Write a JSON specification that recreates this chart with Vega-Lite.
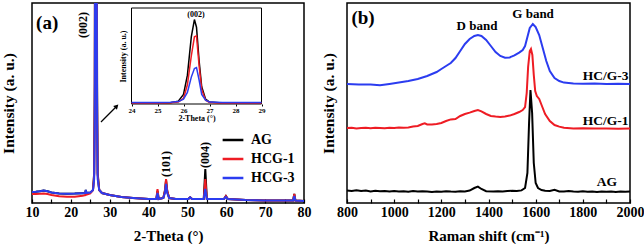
{
  "$schema": "https://vega.github.io/schema/vega-lite/v6.json",
  "padding": {"left": 0, "top": 2, "right": 0, "bottom": 0},
  "background": "white",
  "bounds": "flush",
  "spacing": 43,
  "config": {
    "font": "Liberation Serif",
    "view": {"stroke": "black", "strokeWidth": 1.5},
    "axis": {
      "labelFont": "Liberation Serif", "titleFont": "Liberation Serif",
      "labelFontWeight": "bold", "titleFontWeight": "bold",
      "labelColor": "black", "titleColor": "black", "tickColor": "black", "domainColor": "black",
      "grid": false, "labelOverlap": false
    },
    "text": {"font": "Liberation Serif", "fontWeight": "bold", "color": "black"}
  },
  "datasets": {
    "xrd": [
      {"t":10,"AG":5.5,"HCG-1":4.5,"HCG-3":5.5},
      {"t":11,"AG":5.6,"HCG-1":4.5,"HCG-3":5.6},
      {"t":12,"AG":5.9,"HCG-1":4.6,"HCG-3":5.9},
      {"t":13,"AG":6.3,"HCG-1":4.8,"HCG-3":6.3},
      {"t":14,"AG":5.9,"HCG-1":4.5,"HCG-3":5.9},
      {"t":15,"AG":5.3,"HCG-1":4.0,"HCG-3":5.3},
      {"t":17,"AG":4.8,"HCG-1":3.4,"HCG-3":4.8},
      {"t":19,"AG":4.6,"HCG-1":3.1,"HCG-3":4.6},
      {"t":21,"AG":4.7,"HCG-1":3.1,"HCG-3":4.7},
      {"t":23,"AG":4.9,"HCG-1":3.6,"HCG-3":4.9},
      {"t":23.7,"AG":5.0,"HCG-1":3.9,"HCG-3":5.0},
      {"t":23.85,"AG":6.5,"HCG-1":6.0,"HCG-3":6.5},
      {"t":24.0,"AG":5.0,"HCG-1":4.2,"HCG-3":5.0},
      {"t":25,"AG":5.2,"HCG-1":4.8,"HCG-3":5.2},
      {"t":25.7,"AG":6.5,"HCG-1":6.5,"HCG-3":6.5},
      {"t":26.0,"AG":15,"HCG-1":14,"HCG-3":12},
      {"t":26.15,"AG":60,"HCG-1":50,"HCG-3":40},
      {"t":26.3,"AG":250,"HCG-1":220,"HCG-3":150},
      {"t":26.45,"AG":300,"HCG-1":260,"HCG-3":180},
      {"t":26.6,"AG":250,"HCG-1":220,"HCG-3":150},
      {"t":26.75,"AG":60,"HCG-1":50,"HCG-3":40},
      {"t":26.9,"AG":15,"HCG-1":14,"HCG-3":12},
      {"t":27.3,"AG":6.5,"HCG-1":6.5,"HCG-3":6.5},
      {"t":28,"AG":5,"HCG-1":5,"HCG-3":5},
      {"t":30,"AG":4,"HCG-1":4,"HCG-3":4},
      {"t":33,"AG":3,"HCG-1":3,"HCG-3":3},
      {"t":36,"AG":2.5,"HCG-1":2.5,"HCG-3":2.5},
      {"t":40,"AG":2,"HCG-1":2,"HCG-3":2},
      {"t":42.0,"AG":2,"HCG-1":2,"HCG-3":2},
      {"t":42.3,"AG":6,"HCG-1":7,"HCG-3":5},
      {"t":42.6,"AG":2,"HCG-1":2,"HCG-3":2},
      {"t":43.8,"AG":2.5,"HCG-1":2.5,"HCG-3":2.5},
      {"t":44.2,"AG":6,"HCG-1":6,"HCG-3":5},
      {"t":44.5,"AG":11.5,"HCG-1":12,"HCG-3":9.5},
      {"t":44.8,"AG":6,"HCG-1":6,"HCG-3":5},
      {"t":45.3,"AG":2.5,"HCG-1":2.5,"HCG-3":2.5},
      {"t":47,"AG":2,"HCG-1":2,"HCG-3":2},
      {"t":50.2,"AG":2,"HCG-1":2,"HCG-3":2},
      {"t":50.7,"AG":2.8,"HCG-1":2.8,"HCG-3":2.8},
      {"t":51.2,"AG":2,"HCG-1":2,"HCG-3":2},
      {"t":54.2,"AG":2,"HCG-1":2,"HCG-3":2},
      {"t":54.6,"AG":17,"HCG-1":12,"HCG-3":7},
      {"t":55.0,"AG":2,"HCG-1":2,"HCG-3":2},
      {"t":59.4,"AG":2,"HCG-1":2,"HCG-3":2},
      {"t":59.9,"AG":3.5,"HCG-1":3.5,"HCG-3":3},
      {"t":60.4,"AG":2,"HCG-1":2,"HCG-3":2},
      {"t":65,"AG":1.5,"HCG-1":1.5,"HCG-3":1.5},
      {"t":70,"AG":1.2,"HCG-1":1.2,"HCG-3":1.2},
      {"t":77.2,"AG":1.2,"HCG-1":1.2,"HCG-3":1.2},
      {"t":77.5,"AG":4.5,"HCG-1":4.5,"HCG-3":3.5},
      {"t":77.8,"AG":1.2,"HCG-1":1.2,"HCG-3":1.2},
      {"t":80,"AG":1,"HCG-1":1,"HCG-3":1}
    ],
    "inset": [
      {"t":24,"AG":1,"HCG-1":1,"HCG-3":1.5},
      {"t":25,"AG":1,"HCG-1":1,"HCG-3":1.5},
      {"t":25.5,"AG":1.3,"HCG-1":1.2,"HCG-3":1.8},
      {"t":25.8,"AG":3,"HCG-1":2,"HCG-3":2.5},
      {"t":26.0,"AG":10,"HCG-1":6,"HCG-3":5},
      {"t":26.15,"AG":30,"HCG-1":20,"HCG-3":12},
      {"t":26.3,"AG":70,"HCG-1":50,"HCG-3":28},
      {"t":26.42,"AG":88,"HCG-1":70,"HCG-3":37},
      {"t":26.5,"AG":80,"HCG-1":71,"HCG-3":38},
      {"t":26.6,"AG":45,"HCG-1":40,"HCG-3":25},
      {"t":26.7,"AG":18,"HCG-1":15,"HCG-3":10},
      {"t":26.85,"AG":5,"HCG-1":4,"HCG-3":4},
      {"t":27.0,"AG":2,"HCG-1":1.5,"HCG-3":2},
      {"t":27.5,"AG":1,"HCG-1":1,"HCG-3":1.5},
      {"t":28,"AG":1,"HCG-1":1,"HCG-3":1.5},
      {"t":29,"AG":1,"HCG-1":1,"HCG-3":1.5}
    ],
    "raman": [
      {"s":"AG","w":800,"i":6.3},{"s":"AG","w":820,"i":6.0},{"s":"AG","w":840,"i":6.4},{"s":"AG","w":860,"i":6.0},
      {"s":"AG","w":880,"i":6.2},{"s":"AG","w":900,"i":5.8},{"s":"AG","w":920,"i":6.1},{"s":"AG","w":940,"i":5.9},
      {"s":"AG","w":960,"i":6.0},{"s":"AG","w":980,"i":5.7},{"s":"AG","w":1000,"i":6.0},{"s":"AG","w":1020,"i":5.8},
      {"s":"AG","w":1040,"i":5.9},{"s":"AG","w":1060,"i":5.6},{"s":"AG","w":1080,"i":6.0},{"s":"AG","w":1100,"i":5.7},
      {"s":"AG","w":1120,"i":5.9},{"s":"AG","w":1140,"i":5.8},{"s":"AG","w":1160,"i":5.5},{"s":"AG","w":1180,"i":5.8},
      {"s":"AG","w":1200,"i":5.6},{"s":"AG","w":1220,"i":5.9},{"s":"AG","w":1240,"i":5.7},{"s":"AG","w":1260,"i":5.6},
      {"s":"AG","w":1280,"i":5.9},{"s":"AG","w":1300,"i":5.8},{"s":"AG","w":1320,"i":6.2},{"s":"AG","w":1340,"i":7.5},
      {"s":"AG","w":1355,"i":8.2},{"s":"AG","w":1370,"i":7.0},{"s":"AG","w":1390,"i":5.9},{"s":"AG","w":1420,"i":5.8},
      {"s":"AG","w":1440,"i":5.9},{"s":"AG","w":1460,"i":5.7},{"s":"AG","w":1480,"i":6.0},{"s":"AG","w":1500,"i":6.1},
      {"s":"AG","w":1520,"i":6.0},{"s":"AG","w":1540,"i":6.3},{"s":"AG","w":1555,"i":7.5},{"s":"AG","w":1565,"i":15},
      {"s":"AG","w":1572,"i":40},{"s":"AG","w":1578,"i":56.5},{"s":"AG","w":1585,"i":45},{"s":"AG","w":1592,"i":20},
      {"s":"AG","w":1600,"i":10},{"s":"AG","w":1610,"i":7.5},{"s":"AG","w":1625,"i":6.5},{"s":"AG","w":1640,"i":6.1},
      {"s":"AG","w":1660,"i":6.0},{"s":"AG","w":1680,"i":6.6},{"s":"AG","w":1700,"i":5.8},{"s":"AG","w":1720,"i":5.7},
      {"s":"AG","w":1740,"i":6.0},{"s":"AG","w":1760,"i":5.7},{"s":"AG","w":1780,"i":5.6},{"s":"AG","w":1800,"i":5.9},
      {"s":"AG","w":1820,"i":5.6},{"s":"AG","w":1840,"i":5.8},{"s":"AG","w":1860,"i":5.5},{"s":"AG","w":1880,"i":5.7},
      {"s":"AG","w":1900,"i":5.6},{"s":"AG","w":1920,"i":5.8},{"s":"AG","w":1940,"i":5.5},{"s":"AG","w":1960,"i":5.7},
      {"s":"AG","w":1980,"i":5.6},{"s":"AG","w":2000,"i":5.7},
      {"s":"HC/G-1","w":800,"i":37.5},{"s":"HC/G-1","w":820,"i":37.6},{"s":"HC/G-1","w":840,"i":37.3},{"s":"HC/G-1","w":860,"i":37.5},
      {"s":"HC/G-1","w":880,"i":37.6},{"s":"HC/G-1","w":900,"i":37.4},{"s":"HC/G-1","w":920,"i":37.6},{"s":"HC/G-1","w":940,"i":37.5},
      {"s":"HC/G-1","w":960,"i":37.4},{"s":"HC/G-1","w":980,"i":37.6},{"s":"HC/G-1","w":1000,"i":37.5},{"s":"HC/G-1","w":1020,"i":37.7},
      {"s":"HC/G-1","w":1040,"i":37.6},{"s":"HC/G-1","w":1060,"i":37.8},{"s":"HC/G-1","w":1080,"i":38.2},{"s":"HC/G-1","w":1100,"i":38.5},
      {"s":"HC/G-1","w":1120,"i":39.5},{"s":"HC/G-1","w":1130,"i":39.8},{"s":"HC/G-1","w":1140,"i":39.3},{"s":"HC/G-1","w":1160,"i":39.2},
      {"s":"HC/G-1","w":1180,"i":39.5},{"s":"HC/G-1","w":1200,"i":40},{"s":"HC/G-1","w":1220,"i":41},{"s":"HC/G-1","w":1240,"i":41.8},
      {"s":"HC/G-1","w":1260,"i":42},{"s":"HC/G-1","w":1280,"i":43.5},{"s":"HC/G-1","w":1300,"i":44.5},{"s":"HC/G-1","w":1320,"i":45.2},
      {"s":"HC/G-1","w":1340,"i":46},{"s":"HC/G-1","w":1355,"i":46.5},{"s":"HC/G-1","w":1370,"i":45.8},{"s":"HC/G-1","w":1390,"i":44.5},
      {"s":"HC/G-1","w":1410,"i":43.5},{"s":"HC/G-1","w":1430,"i":43.2},{"s":"HC/G-1","w":1450,"i":43},{"s":"HC/G-1","w":1470,"i":43.2},
      {"s":"HC/G-1","w":1490,"i":43.7},{"s":"HC/G-1","w":1510,"i":44.5},{"s":"HC/G-1","w":1530,"i":45.5},{"s":"HC/G-1","w":1545,"i":46.5},
      {"s":"HC/G-1","w":1555,"i":48},{"s":"HC/G-1","w":1562,"i":55},{"s":"HC/G-1","w":1568,"i":68},{"s":"HC/G-1","w":1575,"i":76},
      {"s":"HC/G-1","w":1580,"i":77},{"s":"HC/G-1","w":1586,"i":74},{"s":"HC/G-1","w":1592,"i":64},{"s":"HC/G-1","w":1598,"i":56},
      {"s":"HC/G-1","w":1605,"i":53.5},{"s":"HC/G-1","w":1615,"i":52},{"s":"HC/G-1","w":1625,"i":49},{"s":"HC/G-1","w":1640,"i":44.5},
      {"s":"HC/G-1","w":1660,"i":41},{"s":"HC/G-1","w":1680,"i":39},{"s":"HC/G-1","w":1700,"i":38.2},{"s":"HC/G-1","w":1720,"i":37.6},
      {"s":"HC/G-1","w":1760,"i":37.3},{"s":"HC/G-1","w":1800,"i":37.4},{"s":"HC/G-1","w":1850,"i":37.2},{"s":"HC/G-1","w":1900,"i":37.3},
      {"s":"HC/G-1","w":1950,"i":37.1},{"s":"HC/G-1","w":2000,"i":37.2},
      {"s":"HC/G-3","w":800,"i":59.5},{"s":"HC/G-3","w":850,"i":59.3},{"s":"HC/G-3","w":900,"i":59.2},{"s":"HC/G-3","w":940,"i":58.9},
      {"s":"HC/G-3","w":980,"i":59.5},{"s":"HC/G-3","w":1020,"i":60.2},{"s":"HC/G-3","w":1060,"i":61},{"s":"HC/G-3","w":1100,"i":62},
      {"s":"HC/G-3","w":1140,"i":63.5},{"s":"HC/G-3","w":1180,"i":65.5},{"s":"HC/G-3","w":1200,"i":67},{"s":"HC/G-3","w":1220,"i":68.5},
      {"s":"HC/G-3","w":1240,"i":70},{"s":"HC/G-3","w":1260,"i":72.5},{"s":"HC/G-3","w":1280,"i":76},{"s":"HC/G-3","w":1300,"i":79.5},
      {"s":"HC/G-3","w":1320,"i":82},{"s":"HC/G-3","w":1340,"i":83.5},{"s":"HC/G-3","w":1355,"i":84},{"s":"HC/G-3","w":1370,"i":83.5},
      {"s":"HC/G-3","w":1390,"i":81.5},{"s":"HC/G-3","w":1410,"i":78.5},{"s":"HC/G-3","w":1430,"i":75.5},{"s":"HC/G-3","w":1450,"i":73.5},
      {"s":"HC/G-3","w":1470,"i":72.6},{"s":"HC/G-3","w":1490,"i":72.8},{"s":"HC/G-3","w":1510,"i":73.8},{"s":"HC/G-3","w":1530,"i":75.2},
      {"s":"HC/G-3","w":1545,"i":76.5},{"s":"HC/G-3","w":1555,"i":78.5},{"s":"HC/G-3","w":1565,"i":83},{"s":"HC/G-3","w":1575,"i":87.5},
      {"s":"HC/G-3","w":1588,"i":89.5},{"s":"HC/G-3","w":1600,"i":88},{"s":"HC/G-3","w":1615,"i":84},{"s":"HC/G-3","w":1630,"i":77.5},
      {"s":"HC/G-3","w":1645,"i":71},{"s":"HC/G-3","w":1660,"i":66},{"s":"HC/G-3","w":1680,"i":62.5},{"s":"HC/G-3","w":1700,"i":61},
      {"s":"HC/G-3","w":1720,"i":60.2},{"s":"HC/G-3","w":1760,"i":59.7},{"s":"HC/G-3","w":1800,"i":59.6},{"s":"HC/G-3","w":1850,"i":59.8},
      {"s":"HC/G-3","w":1900,"i":59.5},{"s":"HC/G-3","w":1950,"i":59.6},{"s":"HC/G-3","w":2000,"i":59.5}
    ]
  },
  "resolve": {"scale": {"color": "independent"}},
  "hconcat": [
    {
      "width": 272,
      "height": 200,
      "resolve": {"scale": {"x": "independent", "y": "independent"}, "axis": {"x": "independent", "y": "independent"}},
      "layer": [
        {
          "encoding": {
            "x": {"type": "quantitative", "scale": {"domain": [10, 80], "nice": false},
              "axis": {"orient": "bottom", "title": "2-Theta (°)", "values": [10,15,20,25,30,35,40,45,50,55,60,65,70,75,80],
                "labelExpr": "(datum.value % 10 === 0) ? format(datum.value, 'd') : ''", "labelOverlap": false, "labelBound": false,
                "domain": false, "tickSize": -4, "tickWidth": 1.2,
                "labelFontSize": 14, "labelPadding": 6, "titleFontSize": 15, "titlePadding": 9, "labelFlush": false}},
            "y": {"type": "quantitative", "scale": {"domain": [0, 100], "nice": false},
              "axis": {"orient": "left", "title": "Intensity (a. u.)", "labels": false, "ticks": false, "domain": false,
                "titleFontSize": 15.5, "titlePadding": 16}}
          },
          "layer": [
            {
              "data": {"name": "xrd"},
              "transform": [{"fold": ["AG", "HCG-1", "HCG-3"], "as": ["sample", "I"]}],
              "mark": {"type": "line", "strokeWidth": 2, "clip": true},
              "encoding": {
                "x": {"field": "t"},
                "y": {"field": "I"},
                "color": {"field": "sample", "type": "nominal",
                  "scale": {"domain": ["AG", "HCG-1", "HCG-3"], "range": ["#000000", "#ee1c24", "#2b3cf0"]},
                  "legend": {"orient": "none", "legendX": 189, "legendY": 125, "title": null, "symbolType": "stroke",
                    "symbolSize": 430, "symbolStrokeWidth": 2.5, "labelFontSize": 14, "labelFont": "Liberation Serif",
                    "labelFontWeight": "bold", "labelColor": "black", "rowPadding": -8, "labelOffset": 6}},
                "order": {"field": "sample"}
              }
            },
            {
              "data": {"values": [{"ax": 27.75, "ay": 40.5}, {"ax": 31.6, "ay": 48}]},
              "mark": {"type": "line", "color": "black", "strokeWidth": 1.2},
              "encoding": {"x": {"field": "ax"}, "y": {"field": "ay"}}
            },
            {
              "data": {"values": [{"ax": 31.8, "ay": 48.4}]},
              "mark": {"type": "point", "shape": "triangle-up", "filled": true, "color": "black", "size": 28, "angle": 45, "opacity": 1},
              "encoding": {"x": {"field": "ax"}, "y": {"field": "ay"}}
            },
            {
              "data": {"values": [{"lab": "(a)", "ax": 13.9, "ay": 90}]},
              "mark": {"type": "text", "fontSize": 19, "align": "center", "baseline": "middle"},
              "encoding": {"x": {"field": "ax"}, "y": {"field": "ay"}, "text": {"field": "lab"}}
            },
            {
              "data": {"values": [{"lab": "(002)", "ax": 23.1, "ay": 89}, {"lab": "(101)", "ax": 44.4, "ay": 19.5}, {"lab": "(004)", "ax": 54.4, "ay": 24}]},
              "mark": {"type": "text", "fontSize": 12, "angle": -90, "align": "center", "baseline": "middle"},
              "encoding": {"x": {"field": "ax"}, "y": {"field": "ay"}, "text": {"field": "lab"}}
            }
          ]
        },
        {
          "encoding": {
            "x": {"type": "quantitative", "scale": {"domain": [24, 29], "range": [99.5, 229.5], "nice": false},
              "axis": {"orient": "bottom", "offset": -99, "title": "2-Theta (°)", "values": [24,25,26,27,28,29], "domain": false,
                "tickSize": 2, "labelFontSize": 7, "labelPadding": 0, "titleFontSize": 8, "titlePadding": 1, "labelFlush": false}},
            "y": {"type": "quantitative", "scale": {"domain": [0, 100], "range": [101, 5], "nice": false},
              "axis": {"orient": "left", "offset": -99.5, "title": "Intensity (a. u.)", "labels": false, "ticks": false,
                "domain": false, "titleFontSize": 8, "titlePadding": 4}}
          },
          "layer": [
            {
              "data": {"values": [{"x0": 24, "x1": 29, "y0": 0, "y1": 100}]},
              "mark": {"type": "rect", "fill": "white", "stroke": "black", "strokeWidth": 1},
              "encoding": {"x": {"field": "x0"}, "x2": {"field": "x1"}, "y": {"field": "y0"}, "y2": {"field": "y1"}}
            },
            {
              "data": {"name": "inset"},
              "transform": [{"fold": ["AG", "HCG-1", "HCG-3"], "as": ["sample", "I"]}],
              "mark": {"type": "line", "strokeWidth": 1.5},
              "encoding": {
                "x": {"field": "t"},
                "y": {"field": "I"},
                "color": {"field": "sample", "type": "nominal", "legend": null},
                "order": {"field": "sample"}
              }
            },
            {
              "data": {"values": [{"lab": "(002)", "ax": 26.48, "ay": 93}]},
              "mark": {"type": "text", "fontSize": 8, "align": "center", "baseline": "middle"},
              "encoding": {"x": {"field": "ax"}, "y": {"field": "ay"}, "text": {"field": "lab"}}
            }
          ]
        }
      ]
    },
    {
      "width": 283,
      "height": 200,
      "encoding": {
        "x": {"type": "quantitative", "scale": {"domain": [800, 2000], "nice": false},
          "axis": {"title": "Raman shift (cm⁻¹)", "values": [800,900,1000,1100,1200,1300,1400,1500,1600,1700,1800,1900,2000],
            "labelExpr": "(datum.value % 200 === 0) ? format(datum.value, 'd') : ''", "labelOverlap": false, "domain": false, "tickSize": -4, "tickWidth": 1.2,
            "labelFontSize": 14, "labelPadding": 6, "titleFontSize": 15, "titlePadding": 9, "labelFlush": false}},
        "y": {"type": "quantitative", "scale": {"domain": [0, 100], "nice": false},
          "axis": {"title": "Intensity (a. u.)", "labels": false, "ticks": false, "domain": false, "titleFontSize": 15.5, "titlePadding": 11}}
      },
      "layer": [
        {
          "data": {"name": "raman"},
          "mark": {"type": "line", "strokeWidth": 2},
          "encoding": {
            "x": {"field": "w"},
            "y": {"field": "i"},
            "color": {"field": "s", "type": "nominal", "scale": {"domain": ["AG", "HC/G-1", "HC/G-3"], "range": ["#000000", "#ee1c24", "#2b3cf0"]}, "legend": null}
          }
        },
        {
          "data": {"values": [{"lab": "(b)", "ax": 868, "ay": 92.5}]},
          "mark": {"type": "text", "fontSize": 19, "align": "center", "baseline": "middle"},
          "encoding": {"x": {"field": "ax"}, "y": {"field": "ay"}, "text": {"field": "lab"}}
        },
        {
          "data": {"values": [{"lab": "D band", "ax": 1351, "ay": 88.5}, {"lab": "G band", "ax": 1589, "ay": 94.5}]},
          "mark": {"type": "text", "fontSize": 13, "align": "center", "baseline": "middle"},
          "encoding": {"x": {"field": "ax"}, "y": {"field": "ay"}, "text": {"field": "lab"}}
        },
        {
          "data": {"values": [{"lab": "HC/G-3", "ax": 1994, "ay": 63.5}, {"lab": "HC/G-1", "ax": 1994, "ay": 41}, {"lab": "AG", "ax": 1945, "ay": 10.5}]},
          "mark": {"type": "text", "fontSize": 13.5, "align": "right", "baseline": "middle"},
          "encoding": {"x": {"field": "ax"}, "y": {"field": "ay"}, "text": {"field": "lab"}}
        }
      ]
    }
  ]
}
